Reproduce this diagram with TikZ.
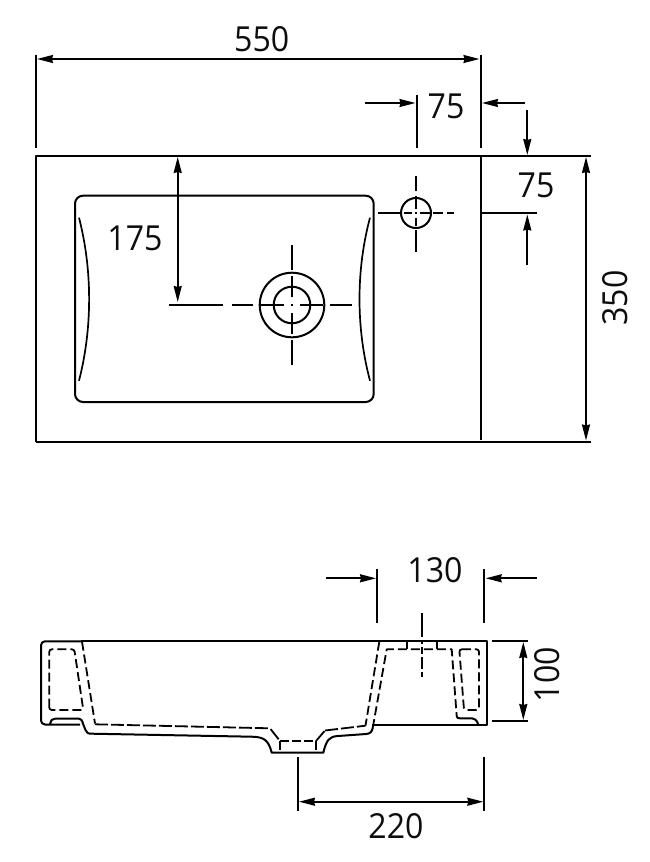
\documentclass[tikz,border=0pt]{standalone}
\usepackage{fontspec}
\setmainfont[FakeStretch=0.93]{Open Sans}
\usetikzlibrary{arrows.meta}
\tikzset{
  x=1pt,y=-1pt,
  outline/.style={line width=2pt,line join=round},
  hidden/.style={line width=1.8pt,dash pattern=on 9pt off 4pt,line join=round},
  thin line/.style={line width=1.8pt},
  centre/.style={line width=1.7pt},
  dimline/.style={line width=1.7pt,-{Stealth[length=16pt,width=8pt,inset=1pt]}},
  dimboth/.style={line width=1.7pt,{Stealth[length=16pt,width=8pt,inset=1pt]}-{Stealth[length=16pt,width=8pt,inset=1pt]}},
  dimtext/.style={font=\fontsize{34.5}{36}\selectfont,text=black!95,inner sep=0pt},
}
\begin{document}
\begin{tikzpicture}
\useasboundingbox (0,0) rectangle (649,862);
\fill[white] (0,0) rectangle (649,862);

% ---- top view ----
\draw[outline] (36,441.5) -- (36,156) -- (590.5,156);
\draw[outline] (36,441.5) -- (590.5,441.5);
\draw[outline] (480.7,157) -- (480.7,440);
\draw[thin line] (36,55) -- (36,148);
\draw[thin line] (480.7,55) -- (480.7,148);
\draw[thin line] (416.7,95) -- (416.7,148);
\draw[thin line] (482,213) -- (537,213);

% basin
\draw[outline,rounded corners=8pt] (75,195.7) rectangle (373.7,402);
\draw[outline,line width=1.7pt] (79,217.7) .. controls (92.5,270) and (92.5,328) .. (79,380.7);
\draw[outline,line width=1.7pt] (370,217.7) .. controls (356,270) and (356,328) .. (370,380.7);

% holes
\draw[outline] (416,213) circle (15);
\draw[outline] (292,305) circle (32.3);
\draw[outline] (292,305) circle (18.3);

% centre lines, small hole
\draw[centre] (378,213) -- (401,213) (404,213) -- (412,213) (415,213) -- (417,213)
  (420,213) -- (430,213) (433,213) -- (443,213) (447,213) -- (454,213);
\draw[centre] (416,176) -- (416,191) (416,196) -- (416,209) (416,212) -- (416,214)
  (416,218) -- (416,226) (416,230) -- (416,252);
% centre lines, drain
\draw[centre] (169,305) -- (223,305) (232,305) -- (253,305) (260,305) -- (284,305)
  (291,305) -- (293,305) (300,305) -- (323,305) (330,305) -- (352,305);
\draw[centre] (292,245) -- (292,270) (292,276) -- (292,297) (292,304) -- (292,306)
  (292,313) -- (292,334) (292,340) -- (292,365);

% ---- top view dimensions ----
\draw[dimboth] (37,59) -- (479.5,59);
\draw[dimline] (365,103) -- (415.5,103);
\draw[dimline] (525,103) -- (482,103);
\draw[dimline] (527.3,110) -- (527.3,155);
\draw[dimline] (527.3,265) -- (527.3,214.5);
\draw[dimboth] (586,157) -- (586,440.5);
\draw[dimboth] (177.7,157) -- (177.7,302);

\node[dimtext] (dimA) at (261.7,39.3) {550};
\node[dimtext] (dimB) at (446,106) {75};
\node[dimtext] (dimC) at (536,185) {75};
\node[dimtext] (dimD) at (135,238) {175};
\node[dimtext,rotate=90] (dimE) at (615.5,298) {350};

% ---- section view ----
% top and right edge
\draw[outline,rounded corners=4pt] (80,724.5) -- (41,724.5) -- (41,641.3) -- (81,641.3);
\draw[outline] (81,641.3) -- (486.7,641.3) -- (486.7,724.7) -- (371.7,724.7);

% outer underside
\draw[outline] (50,724.5) .. controls (51,720) and (52,718.7) .. (55,718.7)
  -- (79,718.7) .. controls (81,718.7) and (82,720) .. (83.3,724.5)
  -- (85.5,730) .. controls (86.5,733) and (88,733.7) .. (92,733.7)
  -- (252,736.7) .. controls (264,737) and (268.5,740) .. (271.7,752.7)
  -- (323.3,752.7) .. controls (326.5,740) and (329,736.5) .. (338,736)
  -- (366,734) .. controls (370,733.7) and (372,732) .. (372.7,728);

% hidden lines
\draw[hidden,rounded corners=2.5pt] (49.3,710) -- (49.3,649.3) -- (74.3,649.3) -- (83.3,710) -- cycle;
\draw[hidden] (82,641.7) -- (95,723.5);
\draw[hidden,dash pattern=on 13pt off 3pt] (95,724.3) -- (270,728.3) -- (280,741);
\draw[hidden,dash pattern=on 13pt off 3pt] (325,730.5) -- (365.5,725.7);
\draw[hidden,dash pattern=on 9pt off 3pt] (280,741) -- (316,741);
\draw[hidden,dash pattern=on 13pt off 3pt] (316,741) -- (325,730.5);
\draw[thin line] (280,741) -- (280,750) (316,741) -- (316,750);
\draw[hidden] (379.3,641.7) -- (365.5,725.7);
\draw[hidden] (372.7,728) -- (386.7,649.3) -- (451.7,649.3) -- (456.7,716);
\draw[outline] (456.7,716) .. controls (456.9,718) and (458,718.3) .. (460,718.3)
  -- (472,718.3) .. controls (475,718.3) and (476.5,720) .. (478.3,724.5);
\draw[hidden,rounded corners=2.5pt] (459.3,649.3) -- (479,649.3) -- (479,710) -- (464,710) -- cycle;
\draw[thin line] (407.3,641.3) -- (407.3,649.3) (436.7,641.3) -- (436.7,649.3);
\draw[centre] (421.7,613) -- (421.7,637) (421.7,640) -- (421.7,644) (421.7,647) -- (421.7,654)
  (421.7,657) -- (421.7,669) (421.7,672) -- (421.7,677);

% ---- section dimensions ----
\draw[thin line] (377.3,569.3) -- (377.3,623.3);
\draw[thin line] (484.3,569.3) -- (484.3,623.3);
\draw[dimline] (326,578.3) -- (376,578.3);
\draw[dimline] (536.7,578.3) -- (485.7,578.3);
\draw[thin line] (491.7,641.3) -- (528.3,641.3);
\draw[thin line] (491.7,721) -- (528.3,721);
\draw[dimboth] (523.3,642) -- (523.3,720);
\draw[thin line] (298.3,756.7) -- (298.3,810.7);
\draw[thin line] (484,756.7) -- (484,810.7);
\draw[dimboth] (299,801.7) -- (483.3,801.7);

\node[dimtext] (dimF) at (435,570) {130};
\node[dimtext,rotate=90] (dimG) at (547,674.5) {100};
\node[dimtext] (dimH) at (396,826) {220};
\end{tikzpicture}
\end{document}
